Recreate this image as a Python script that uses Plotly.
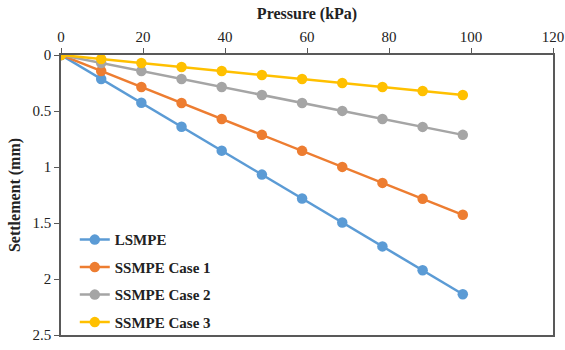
import plotly.graph_objects as go

pressure = [0, 9.8, 19.6, 29.4, 39.2, 49.0, 58.8, 68.6, 78.4, 88.2, 98.0]
lsmpe = [0, 0.214, 0.427, 0.641, 0.854, 1.068, 1.282, 1.495, 1.709, 1.922, 2.136]
case1 = [0, 0.143, 0.285, 0.428, 0.571, 0.713, 0.856, 0.999, 1.142, 1.284, 1.427]
case2 = [0, 0.071, 0.143, 0.214, 0.285, 0.357, 0.428, 0.499, 0.571, 0.642, 0.713]
case3 = [0, 0.036, 0.071, 0.107, 0.143, 0.178, 0.214, 0.250, 0.285, 0.321, 0.357]

series = [
    ("LSMPE", lsmpe, "#5B9BD5"),
    ("SSMPE Case 1", case1, "#ED7D31"),
    ("SSMPE Case 2", case2, "#A5A5A5"),
    ("SSMPE Case 3", case3, "#FFC000"),
]

fig = go.Figure()
for i, (name, vals, col) in enumerate(series):
    fig.add_trace(go.Scatter(
        x=pressure, y=vals, name=name, mode="lines+markers",
        line=dict(color=col, width=2.5),
        marker=dict(color=col, size=10.5),
        legendgroup=f"g{i}",
    ))

font = "Liberation Serif, Times New Roman, serif"
fig.update_layout(
    width=565, height=350,
    margin=dict(l=61, r=12, t=55, b=12),
    paper_bgcolor="white", plot_bgcolor="white",
    font=dict(family=font, size=13, color="#222"),
    showlegend=True,
    legend=dict(
        x=0.028, y=-0.012, xanchor="left", yanchor="bottom",
        font=dict(family=font, size=15, color="#222", weight="bold"),
        tracegroupgap=5, bgcolor="rgba(0,0,0,0)",
    ),
    xaxis=dict(
        side="top", range=[0, 120], dtick=20, tick0=0,
        showgrid=False, zeroline=False, automargin=False,
        showline=True, linecolor="#595959", linewidth=1.5, mirror=True,
        ticks="outside", ticklen=5, tickcolor="#595959",
        title=dict(text="<b>Pressure (kPa)</b>", font=dict(family=font, size=16), standoff=6),
        tickfont=dict(family=font, size=15),
    ),
    yaxis=dict(
        range=[2.5, 0], dtick=0.5, tick0=0,
        showgrid=False, zeroline=False, automargin=False,
        showline=True, linecolor="#595959", linewidth=1.5, mirror=True,
        ticks="outside", ticklen=5, tickcolor="#595959",
        title=dict(text="<b>Settlement (mm)</b>", font=dict(family=font, size=16), standoff=8),
        tickfont=dict(family=font, size=15),
    ),
)

fig.write_html("out.html")
